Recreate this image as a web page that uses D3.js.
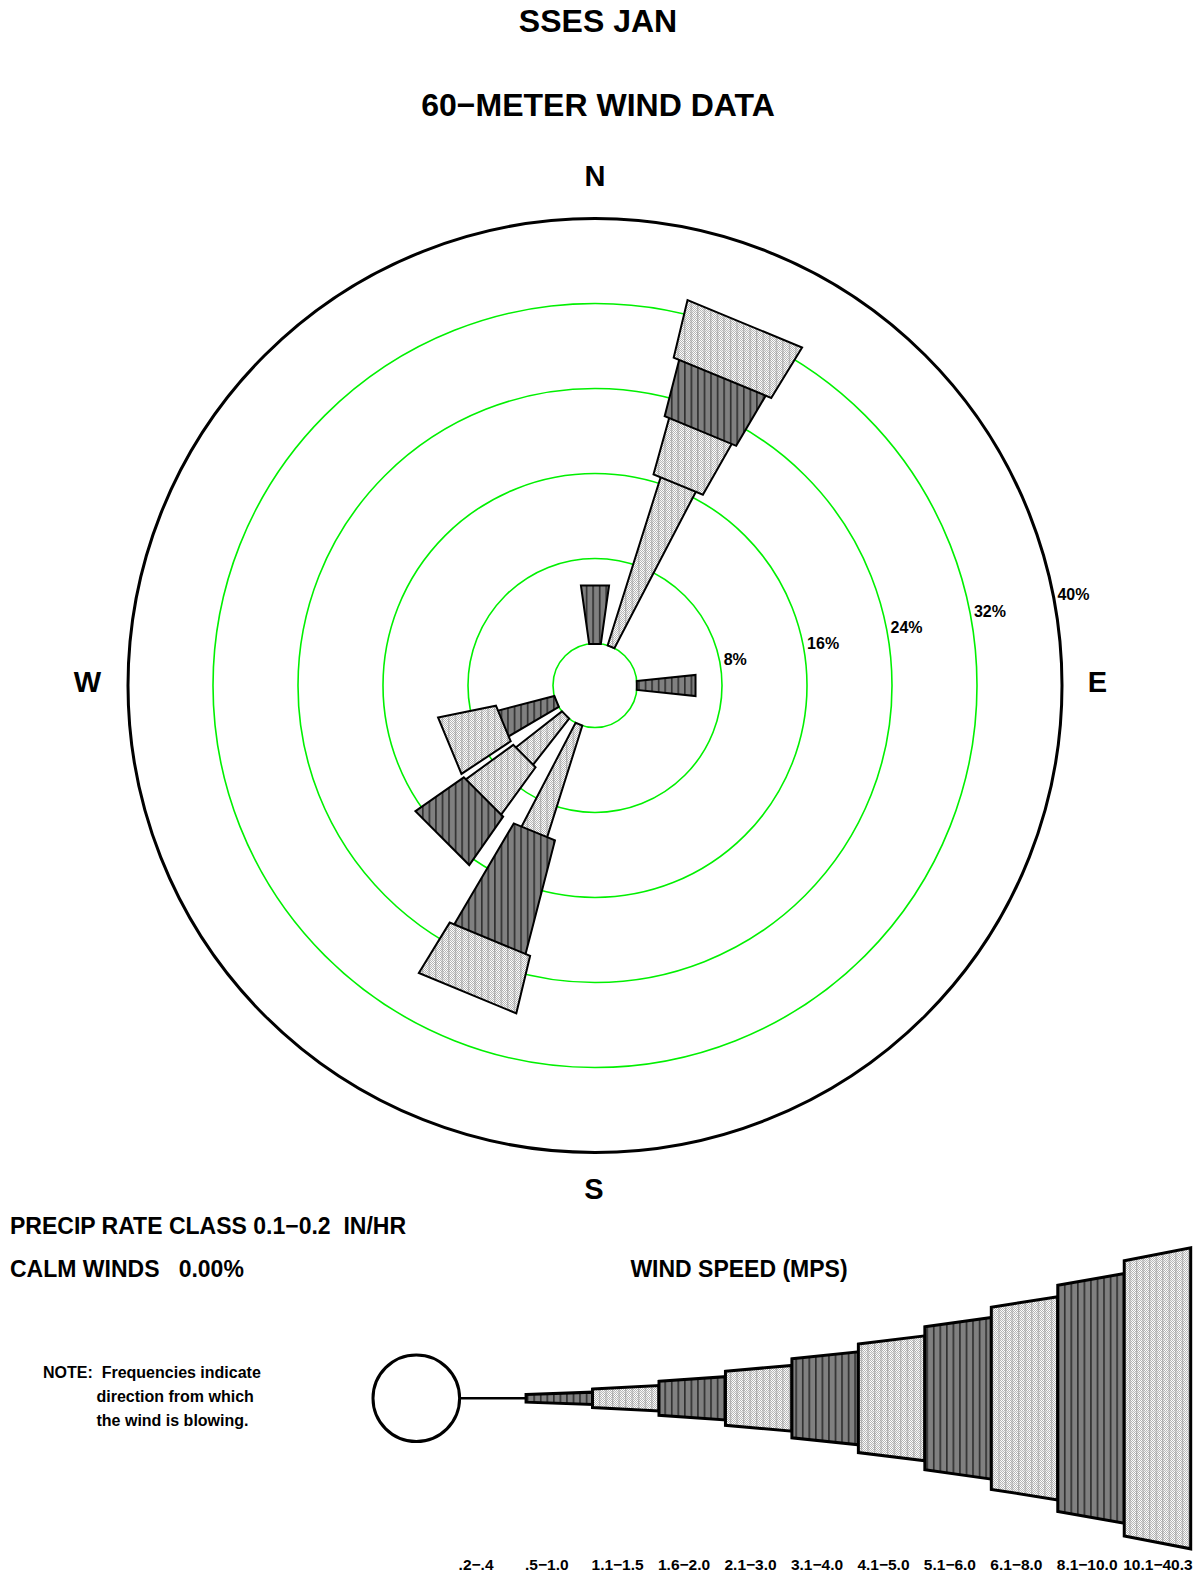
<!DOCTYPE html>
<html>
<head>
<meta charset="utf-8">
<script src="https://cdn.jsdelivr.net/npm/d3@7"></script>
<style>
  body { margin: 0; background: #fff; }
  svg { display: block; }
  text { font-family: "Liberation Sans", Arial, Helvetica, sans-serif; font-weight: bold; fill: #000; }
</style>
</head>
<body>
<svg id="chart" width="1202" height="1576"></svg>
<script>
// compass sectors, clockwise from north
const directions = ["N","NNE","NE","ENE","E","ESE","SE","SSE","S","SSW","SW","WSW","W","WNW","NW","NNW"];
// wind speed classes (mps)
const speedClasses = [".2\u2212.4", ".5\u22121.0", "1.1\u22121.5", "1.6\u22122.0", "2.1\u22123.0", "3.1\u22124.0",
                      "4.1\u22125.0", "5.1\u22126.0", "6.1\u22128.0", "8.1\u221210.0", "10.1\u221240.3"];
const ringTicks = [8, 16, 24, 32, 40];

// percent frequency per direction, one array per speed class
//                  N     NNE    NE ENE  E    ESE SE SSE S  SSW    SW    WSW   W WNW NW NNW
const freq_0_2 =  [0,    0,     0, 0,   0,    0, 0, 0,  0, 0,     0,    0,    0, 0, 0, 0];
const freq_0_5 =  [0,    0,     0, 0,   0,    0, 0, 0,  0, 0,     0,    0,    0, 0, 0, 0];
const freq_1_1 =  [0,    0,     0, 0,   0,    0, 0, 0,  0, 0,     0,    0,    0, 0, 0, 0];
const freq_1_6 =  [0,    0,     0, 0,   0,    0, 0, 0,  0, 0,     0,    0,    0, 0, 0, 0];
const freq_2_1 =  [0,    16.67, 0, 0,   0,    0, 0, 0,  0, 11.11, 0,    0,    0, 0, 0, 0];
const freq_3_1 =  [0,    0,     0, 0,   5.56, 0, 0, 0,  0, 0,     0,    0,    0, 0, 0, 0];
const freq_4_1 =  [0,    5.56,  0, 0,   0,    0, 0, 0,  0, 0,     5.56, 0,    0, 0, 0, 0];
const freq_5_1 =  [5.56, 5.56,  0, 0,   0,    0, 0, 0,  0, 11.11, 0,    5.56, 0, 0, 0, 0];
const freq_6_1 =  [0,    5.56,  0, 0,   0,    0, 0, 0,  0, 5.56,  5.56, 0,    0, 0, 0, 0];
const freq_8_1 =  [0,    0,     0, 0,   0,    0, 0, 0,  0, 0,     5.56, 0,    0, 0, 0, 0];
const freq_10_1 = [0,    0,     0, 0,   0,    0, 0, 0,  0, 0,     0,    5.56, 0, 0, 0, 0];
const freqByClass = [freq_0_2, freq_0_5, freq_1_1, freq_1_6, freq_2_1, freq_3_1,
                     freq_4_1, freq_5_1, freq_6_1, freq_8_1, freq_10_1];

const svg = d3.select("#chart");
const cx = 595, cy = 685.5;
const r = d3.scaleLinear().domain([0, 40]).range([42, 467]);
const deg = Math.PI / 180;
// every speed class gets a slightly wider wedge: half angle = (class+1) degrees
const halfAngle = i => (i + 1) * deg;
const isDark = i => i % 2 === 1;

// ---- patterns
const defs = svg.append("defs");
const chk = defs.append("pattern").attr("id", "checker").attr("patternUnits", "userSpaceOnUse")
  .attr("width", 2).attr("height", 2);
chk.append("rect").attr("width", 2).attr("height", 2).attr("fill", "#fff");
chk.append("rect").attr("width", 1).attr("height", 1).attr("fill", "#b4b4b4");
chk.append("rect").attr("x", 1).attr("y", 1).attr("width", 1).attr("height", 1).attr("fill", "#b4b4b4");

const vl = defs.append("pattern").attr("id", "vlight").attr("patternUnits", "userSpaceOnUse")
  .attr("width", 6.55).attr("height", 6.55);
vl.append("rect").attr("x", 3).attr("width", 1).attr("height", 6.55).attr("fill", "#a0a0a0");
vl.append("rect").attr("y", 3).attr("width", 6.55).attr("height", 1).attr("fill", "#d0d0d0").attr("opacity", 0.6);

const vd = defs.append("pattern").attr("id", "vdark").attr("patternUnits", "userSpaceOnUse")
  .attr("width", 6.55).attr("height", 10);
vd.append("rect").attr("x", 3).attr("width", 1.3).attr("height", 10).attr("fill", "#1a1a1a");

function drawPoly(g, pts, cls, sw) {
  const d = "M" + pts.map(p => p.join(",")).join("L") + "Z";
  g.append("path").attr("d", d).attr("fill", isDark(cls) ? "#808080" : "url(#checker)");
  g.append("path").attr("d", d).attr("fill", isDark(cls) ? "url(#vdark)" : "url(#vlight)");
  g.append("path").attr("d", d).attr("fill", "none").attr("stroke", "#000")
    .attr("stroke-width", sw).attr("stroke-linejoin", "miter");
}

// ---- titles
svg.append("text").attr("x", 598).attr("y", 32).attr("text-anchor", "middle")
  .attr("font-size", 32).text("SSES JAN");
svg.append("text").attr("x", 598).attr("y", 116).attr("text-anchor", "middle")
  .attr("font-size", 32).text("60\u2212METER WIND DATA");

// ---- rings
const rose = svg.append("g");
rose.selectAll("circle.ring").data([0].concat(ringTicks.slice(0, -1)))
  .enter().append("circle").attr("class", "ring")
  .attr("cx", cx).attr("cy", cy).attr("r", d => r(d))
  .attr("fill", "none").attr("stroke", "#00f000").attr("stroke-width", 1.6);
rose.append("circle").attr("cx", cx).attr("cy", cy).attr("r", r(40))
  .attr("fill", "none").attr("stroke", "#000").attr("stroke-width", 3);

// ring labels sit about 11 degrees above the east axis
const labAng = 11 * deg;
rose.selectAll("text.tick").data(ringTicks).enter().append("text").attr("class", "tick")
  .attr("x", d => cx + r(d) * Math.cos(labAng) + 4).attr("y", d => cy + 4 - r(d) * Math.sin(labAng))
  .attr("font-size", 16).text(d => d + "%");

// compass letters
const compass = [["N", 595, 186], ["S", 594, 1199], ["W", 87.5, 692], ["E", 1097.5, 692]];
svg.selectAll("text.dir").data(compass).enter().append("text").attr("class", "dir")
  .attr("x", d => d[1]).attr("y", d => d[2]).attr("text-anchor", "middle")
  .attr("font-size", 29).text(d => d[0]);

// ---- bars
function polar(rad, a) { return [cx + rad * Math.sin(a), cy - rad * Math.cos(a)]; }
const bars = rose.append("g");
directions.forEach(function (dir, di) {
  const theta = di * 22.5 * deg;
  let cum = 0;
  freqByClass.forEach(function (arr, ci) {
    const v = arr[di];
    if (!v) return;
    const h = halfAngle(ci);
    const r0 = r(cum), r1 = r(cum + v);
    cum += v;
    drawPoly(bars, [polar(r0, theta - h), polar(r1, theta - h), polar(r1, theta + h), polar(r0, theta + h)], ci, 2);
  });
});

// ---- left notes
svg.append("text").attr("x", 10).attr("y", 1234).attr("font-size", 23).style("white-space", "pre")
  .text("PRECIP RATE CLASS 0.1\u22120.2  IN/HR");
svg.append("text").attr("x", 10).attr("y", 1277).attr("font-size", 23).style("white-space", "pre")
  .text("CALM WINDS   0.00%");
const note = [["NOTE:  Frequencies indicate", 43, 1378], ["direction from which", 96.5, 1401.5], ["the wind is blowing.", 96.5, 1426]];
svg.selectAll("text.note").data(note).enter().append("text").attr("class", "note")
  .attr("x", d => d[1]).attr("y", d => d[2]).attr("font-size", 16).style("white-space", "pre")
  .text(d => d[0]);

// ---- legend
svg.append("text").attr("x", 739).attr("y", 1277).attr("text-anchor", "middle")
  .attr("font-size", 23).text("WIND SPEED (MPS)");
const lcx = 416.3, lcy = 1398.3;
const lx = d3.scaleLinear().domain([0, speedClasses.length]).range([459.6, 1190.7]);
const leg = svg.append("g");
leg.append("circle").attr("cx", lcx).attr("cy", lcy).attr("r", 43.3)
  .attr("fill", "#fff").attr("stroke", "#000").attr("stroke-width", 3);
speedClasses.forEach(function (lab, ci) {
  const x0 = lx(ci), x1 = lx(ci + 1);
  const t = Math.tan(halfAngle(ci));
  if (ci === 0) {
    leg.append("line").attr("x1", x0).attr("x2", x1).attr("y1", lcy).attr("y2", lcy)
      .attr("stroke", "#000").attr("stroke-width", 2.5);
  } else {
    const h0 = (x0 - lcx) * t, h1 = (x1 - lcx) * t;
    drawPoly(leg, [[x0, lcy - h0], [x1, lcy - h1], [x1, lcy + h1], [x0, lcy + h0]], ci, 3);
  }
  leg.append("text").attr("x", x0 - 1).attr("y", 1570).attr("font-size", 15.5).text(lab);
});
</script>
</body>
</html>
